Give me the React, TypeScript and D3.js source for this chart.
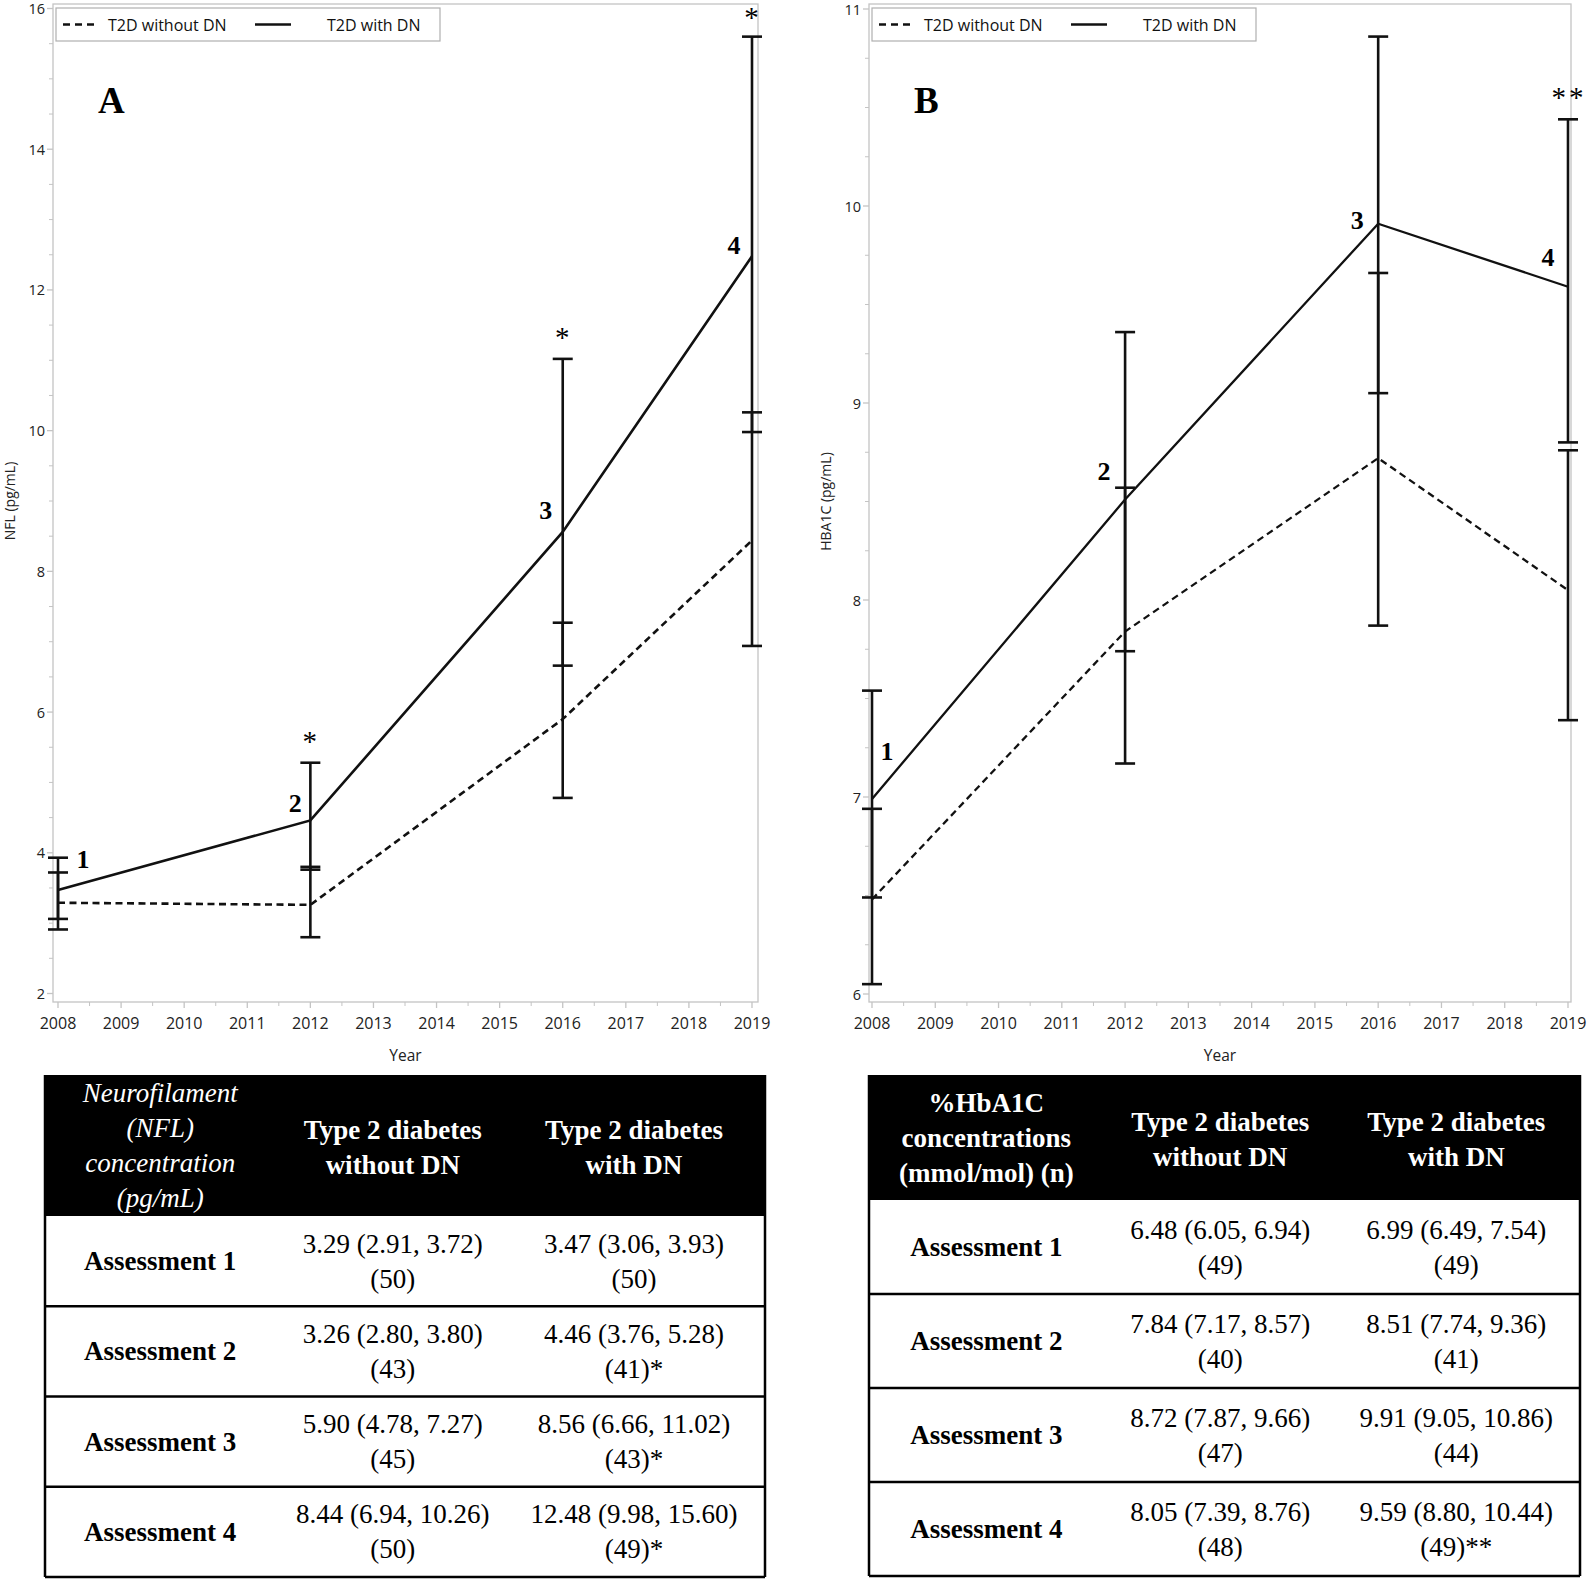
import * as d3 from "d3";

const W = 1588;
const H = 1579;

const years = [2008, 2012, 2016, 2019];
const yearTicks = [2008, 2009, 2010, 2011, 2012, 2013, 2014, 2015, 2016, 2017, 2018, 2019];
const pointLabels = ["1", "2", "3", "4"];
const assessments = ["Assessment 1", "Assessment 2", "Assessment 3", "Assessment 4"];
const legendNames = ["T2D without DN", "T2D with DN"];

// panel A - NFL (pg/mL)
const nflWithoutMean = [3.29, 3.26, 5.9, 8.44];
const nflWithoutLow = [2.91, 2.8, 4.78, 6.94];
const nflWithoutHigh = [3.72, 3.8, 7.27, 10.26];
const nflWithoutN = [50, 43, 45, 50];
const nflWithMean = [3.47, 4.46, 8.56, 12.48];
const nflWithLow = [3.06, 3.76, 6.66, 9.98];
const nflWithHigh = [3.93, 5.28, 11.02, 15.6];
const nflWithN = [50, 41, 43, 49];
const nflSig = ["", "*", "*", "*"];
const nflTicks = [2, 4, 6, 8, 10, 12, 14, 16];
const nflHeader = ["Neurofilament", "(NFL)", "concentration", "(pg/mL)"];

// panel B - HbA1c
const hbWithoutMean = [6.48, 7.84, 8.72, 8.05];
const hbWithoutLow = [6.05, 7.17, 7.87, 7.39];
const hbWithoutHigh = [6.94, 8.57, 9.66, 8.76];
const hbWithoutN = [49, 40, 47, 48];
const hbWithMean = [6.99, 8.51, 9.91, 9.59];
const hbWithLow = [6.49, 7.74, 9.05, 8.8];
const hbWithHigh = [7.54, 9.36, 10.86, 10.44];
const hbWithN = [49, 41, 44, 49];
const hbSig = ["", "", "", "**"];
const hbTicks = [6, 7, 8, 9, 10, 11];
const hbHeader = ["%HbA1C", "concentrations", "(mmol/mol) (n)"];

const groupHeader = [
  ["Type 2 diabetes", "without DN"],
  ["Type 2 diabetes", "with DN"],
];

const SANS = "'Open Sans', 'DejaVu Sans', sans-serif";
const SERIF = "'Liberation Serif', 'Times New Roman', serif";
const AXIS_GRAY = "#c4c4c4";

type Series = { mean: number[]; low: number[]; high: number[] };

type PanelProps = {
  frame: { left: number; right: number; top: number; bottom: number };
  xRange: [number, number];
  yDomain: [number, number];
  yRange: [number, number];
  yTicks: number[];
  yTitle: string;
  letter: string;
  without: Series;
  withDn: Series;
  sig: string[];
  labelOffsets: number[][];
  lineWidth: number;
};

function Panel(p: PanelProps) {
  const { frame } = p;
  const x = d3.scaleLinear().domain([2008, 2019]).range(p.xRange);
  const y = d3.scaleLinear().domain(p.yDomain).range(p.yRange);
  const line = d3
    .line<number>()
    .x((_, i) => x(years[i]))
    .y((d) => y(d));

  const majorStep = p.yTicks[1] - p.yTicks[0];
  const minorY = d3
    .range(p.yDomain[0], p.yDomain[1] + 1e-9, majorStep / 4)
    .filter((v) => !p.yTicks.some((t) => Math.abs(t - v) < 1e-6));
  const minorX = yearTicks.slice(0, -1).map((yr) => yr + 0.5);

  const cap = 10;
  const errorBars = (s: Series, key: string) =>
    years.map((yr, i) => {
      const cx = x(yr);
      return (
        <g key={key + i} stroke="#111" strokeWidth={2.6}>
          <line x1={cx} x2={cx} y1={y(s.high[i])} y2={y(s.low[i])} />
          <line x1={cx - cap} x2={cx + cap} y1={y(s.high[i])} y2={y(s.high[i])} />
          <line x1={cx - cap} x2={cx + cap} y1={y(s.low[i])} y2={y(s.low[i])} />
        </g>
      );
    });

  const lx = frame.left + 3;
  const midX = (frame.left + frame.right) / 2;

  return (
    <g>
      {/* frame */}
      <rect
        x={frame.left}
        y={frame.top}
        width={frame.right - frame.left}
        height={frame.bottom - frame.top}
        fill="none"
        stroke={AXIS_GRAY}
        strokeWidth={1.3}
      />
      {/* y axis */}
      {p.yTicks.map((t) => (
        <g key={"yt" + t}>
          <line x1={frame.left - 6} x2={frame.left} y1={y(t)} y2={y(t)} stroke={AXIS_GRAY} strokeWidth={1.3} />
          <text
            x={frame.left - 8}
            y={y(t)}
            textAnchor="end"
            dominantBaseline="central"
            fontFamily={SANS}
            fontSize={14.5}
            fill="#222"
          >
            {t}
          </text>
        </g>
      ))}
      {minorY.map((t) => (
        <line key={"ym" + t} x1={frame.left - 4} x2={frame.left} y1={y(t)} y2={y(t)} stroke={AXIS_GRAY} strokeWidth={1} />
      ))}
      <text
        transform={`translate(${frame.left - 44},${(p.yRange[0] + p.yRange[1]) / 2}) rotate(-90)`}
        textAnchor="middle"
        dominantBaseline="central"
        fontFamily={SANS}
        fontSize={14}
        fill="#222"
      >
        {p.yTitle}
      </text>
      {/* x axis */}
      {yearTicks.map((t) => (
        <g key={"xt" + t}>
          <line x1={x(t)} x2={x(t)} y1={frame.bottom} y2={frame.bottom + 6} stroke={AXIS_GRAY} strokeWidth={1.3} />
          <text
            x={x(t)}
            y={frame.bottom + 21}
            textAnchor="middle"
            dominantBaseline="central"
            fontFamily={SANS}
            fontSize={16}
            fill="#222"
          >
            {t}
          </text>
        </g>
      ))}
      {minorX.map((t) => (
        <line key={"xm" + t} x1={x(t)} x2={x(t)} y1={frame.bottom} y2={frame.bottom + 4} stroke={AXIS_GRAY} strokeWidth={1} />
      ))}
      <text x={midX} y={frame.bottom + 53} textAnchor="middle" dominantBaseline="central" fontFamily={SANS} fontSize={15.5} fill="#222">
        Year
      </text>

      {/* legend */}
      <rect x={lx} y={frame.top + 4} width={384} height={33} fill="#fff" stroke="#b0b0b0" strokeWidth={1.2} />
      <line x1={lx + 7} x2={lx + 39} y1={frame.top + 20.5} y2={frame.top + 20.5} stroke="#111" strokeWidth={2.4} strokeDasharray="7 5" />
      <text x={lx + 52} y={frame.top + 20.5} dominantBaseline="central" fontFamily={SANS} fontSize={16} fill="#111">
        {legendNames[0]}
      </text>
      <line x1={lx + 199} x2={lx + 235} y1={frame.top + 20.5} y2={frame.top + 20.5} stroke="#111" strokeWidth={2.6} />
      <text x={lx + 271} y={frame.top + 20.5} dominantBaseline="central" fontFamily={SANS} fontSize={16} fill="#111">
        {legendNames[1]}
      </text>

      <text x={frame.left + 45} y={frame.top + 109} fontFamily={SERIF} fontWeight="bold" fontSize={37} fill="#000">
        {p.letter}
      </text>

      {/* data */}
      {errorBars(p.without, "wo")}
      {errorBars(p.withDn, "wi")}
      <path d={line(p.without.mean) || ""} fill="none" stroke="#111" strokeWidth={p.lineWidth} strokeDasharray="7 4.5" />
      <path d={line(p.withDn.mean) || ""} fill="none" stroke="#111" strokeWidth={p.lineWidth} />

      {years.map((yr, i) => (
        <text
          key={"pl" + i}
          x={x(yr) + p.labelOffsets[i][0]}
          y={y(p.withDn.mean[i]) + p.labelOffsets[i][1]}
          textAnchor="middle"
          dominantBaseline="central"
          fontFamily={SERIF}
          fontWeight="bold"
          fontSize={26}
          fill="#000"
        >
          {pointLabels[i]}
        </text>
      ))}
      {years.map((yr, i) =>
        p.sig[i] ? (
          <text
            key={"sg" + i}
            x={x(yr) + 1}
            y={Math.max(y(p.withDn.high[i]) - 12, 27)}
            textAnchor="middle"
            fontFamily={SERIF}
            fontSize={29}
            letterSpacing={3}
            fill="#000"
          >
            {p.sig[i]}
          </text>
        ) : null
      )}
    </g>
  );
}

type TableProps = {
  left: number;
  right: number;
  top: number;
  headerBottom: number;
  rowH: number;
  colCenters: number[];
  header: string[];
  headerItalic: boolean;
  without: Series & { n: number[] };
  withDn: Series & { n: number[] };
  sig: string[];
};

const fmt = d3.format(".2f");

function Table(t: TableProps) {
  const width = t.right - t.left;
  const cx = t.colCenters.map((f) => t.left + f * width);
  const lh = 35;
  const headerMid = (t.top + t.headerBottom) / 2;
  const bottom = t.headerBottom + t.rowH * assessments.length;
  const lines = (arr: string[], mid: number) => arr.map((_, i) => mid + (i - (arr.length - 1) / 2) * lh);

  const cellText = (s: Series & { n: number[] }, i: number, star: string) => [
    `${fmt(s.mean[i])} (${fmt(s.low[i])}, ${fmt(s.high[i])})`,
    `(${s.n[i]})${star}`,
  ];

  return (
    <g fontFamily={SERIF} fontSize={27}>
      <rect x={t.left} y={t.top} width={width} height={t.headerBottom - t.top} fill="#000" />
      {lines(t.header, headerMid).map((yy, i) => (
        <text
          key={"h" + i}
          x={cx[0]}
          y={yy}
          textAnchor="middle"
          dominantBaseline="central"
          fill="#fff"
          fontStyle={t.headerItalic ? "italic" : "normal"}
          fontWeight={t.headerItalic ? "normal" : "bold"}
        >
          {t.header[i]}
        </text>
      ))}
      {groupHeader.map((g, gi) =>
        lines(g, headerMid + 2).map((yy, i) => (
          <text key={"g" + gi + i} x={cx[gi + 1]} y={yy} textAnchor="middle" dominantBaseline="central" fill="#fff" fontWeight="bold">
            {g[i]}
          </text>
        ))
      )}
      {assessments.map((a, r) => {
        const y0 = t.headerBottom + r * t.rowH;
        const mid = y0 + t.rowH / 2;
        const c1 = cellText(t.without, r, "");
        const c2 = cellText(t.withDn, r, t.sig[r]);
        return (
          <g key={"r" + r}>
            <text x={cx[0]} y={mid} textAnchor="middle" dominantBaseline="central" fontWeight="bold" fill="#000">
              {a}
            </text>
            {lines(c1, mid).map((yy, i) => (
              <text key={"a" + i} x={cx[1]} y={yy} textAnchor="middle" dominantBaseline="central" fill="#000">
                {c1[i]}
              </text>
            ))}
            {lines(c2, mid).map((yy, i) => (
              <text key={"b" + i} x={cx[2]} y={yy} textAnchor="middle" dominantBaseline="central" fill="#000">
                {c2[i]}
              </text>
            ))}
            <line x1={t.left} x2={t.right} y1={y0 + t.rowH} y2={y0 + t.rowH} stroke="#000" strokeWidth={2.5} />
          </g>
        );
      })}
      <line x1={t.left} x2={t.left} y1={t.top} y2={bottom} stroke="#000" strokeWidth={2.5} />
      <line x1={t.right} x2={t.right} y1={t.top} y2={bottom} stroke="#000" strokeWidth={2.5} />
    </g>
  );
}

export default function App() {
  const nflWithout = { mean: nflWithoutMean, low: nflWithoutLow, high: nflWithoutHigh, n: nflWithoutN };
  const nflWith = { mean: nflWithMean, low: nflWithLow, high: nflWithHigh, n: nflWithN };
  const hbWithout = { mean: hbWithoutMean, low: hbWithoutLow, high: hbWithoutHigh, n: hbWithoutN };
  const hbWith = { mean: hbWithMean, low: hbWithLow, high: hbWithHigh, n: hbWithN };

  return (
    <div style={{ position: "absolute", left: 0, top: 0, width: W, height: H, background: "#fff" }}>
      <svg width={W} height={H} style={{ display: "block" }}>
        <rect width={W} height={H} fill="#fff" />
        <Panel
          frame={{ left: 53, right: 758, top: 4, bottom: 1002 }}
          xRange={[58, 752]}
          yDomain={[2, 16]}
          yRange={[993.5, 8.5]}
          yTicks={nflTicks}
          yTitle="NFL (pg/mL)"
          letter="A"
          without={nflWithout}
          withDn={nflWith}
          sig={nflSig}
          labelOffsets={[[25, -31], [-15, -17], [-17, -21], [-18, -11]]}
          lineWidth={2.6}
        />
        <Panel
          frame={{ left: 869, right: 1571, top: 4, bottom: 1002 }}
          xRange={[872, 1568]}
          yDomain={[6, 11]}
          yRange={[994, 9]}
          yTicks={hbTicks}
          yTitle="HBA1C (pg/mL)"
          letter="B"
          without={hbWithout}
          withDn={hbWith}
          sig={hbSig}
          labelOffsets={[[15, -47], [-21, -28], [-21, -3], [-20, -29]]}
          lineWidth={2.3}
        />
        <Table
          left={45}
          right={765}
          top={1075}
          headerBottom={1216}
          rowH={90.25}
          colCenters={[0.16, 0.483, 0.818]}
          header={nflHeader}
          headerItalic={true}
          without={nflWithout}
          withDn={nflWith}
          sig={nflSig}
        />
        <Table
          left={869}
          right={1580}
          top={1075}
          headerBottom={1200}
          rowH={94}
          colCenters={[0.165, 0.494, 0.826]}
          header={hbHeader}
          headerItalic={false}
          without={hbWithout}
          withDn={hbWith}
          sig={hbSig}
        />
      </svg>
    </div>
  );
}
